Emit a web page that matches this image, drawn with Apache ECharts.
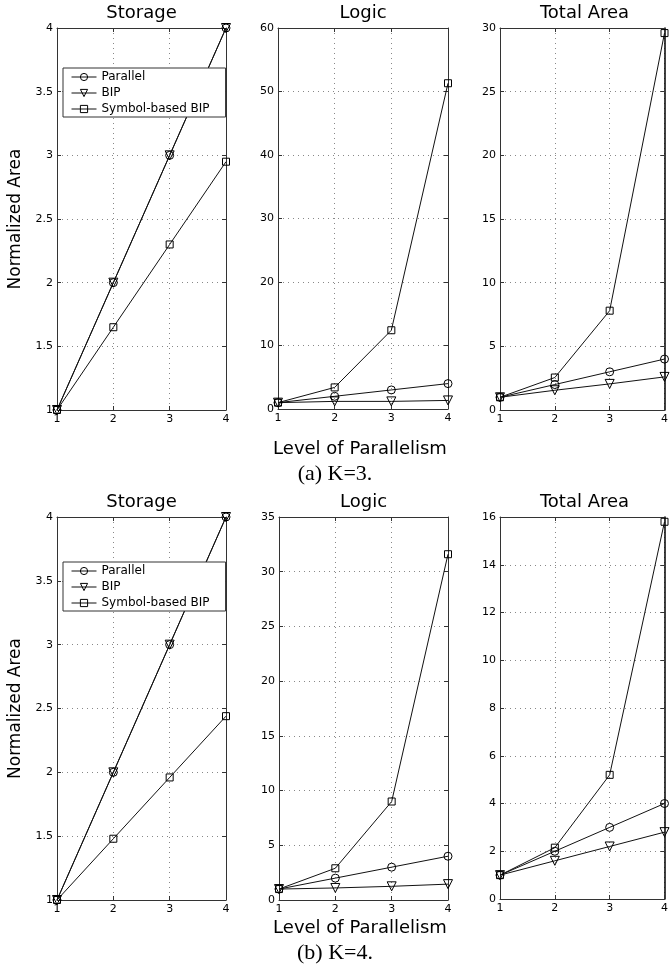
<!DOCTYPE html>
<html>
<head>
<meta charset="utf-8">
<script src="https://cdn.jsdelivr.net/npm/echarts@6/dist/echarts.min.js"></script>
<style>
html,body{margin:0;padding:0;background:#fff;}
#chart{width:671px;height:973px;}
</style>
</head>
<body>
<div id="chart"></div>
<script>
// ---- data ----
const levels = [1, 2, 3, 4];
const seriesNames = ['Parallel', 'BIP', 'Symbol-based BIP'];
const panelTitles = ['Storage', 'Logic', 'Total Area'];

// (a) K=3
const k3StorageParallel = [1, 2, 3, 4];
const k3StorageBIP = [1, 2, 3, 4];
const k3StorageSymbol = [1, 1.65, 2.3, 2.95];
const k3LogicParallel = [1, 2, 3, 4];
const k3LogicBIP = [1, 1.2, 1.2, 1.35];
const k3LogicSymbol = [1, 3.4, 12.4, 51.3];
const k3TotalParallel = [1, 2, 3, 4];
const k3TotalBIP = [1, 1.55, 2.05, 2.6];
const k3TotalSymbol = [1, 2.55, 7.8, 29.6];

// (b) K=4
const k4StorageParallel = [1, 2, 3, 4];
const k4StorageBIP = [1, 2, 3, 4];
const k4StorageSymbol = [1, 1.48, 1.96, 2.44];
const k4LogicParallel = [1, 2, 3, 4];
const k4LogicBIP = [1, 1.1, 1.25, 1.45];
const k4LogicSymbol = [1, 2.9, 9, 31.6];
const k4TotalParallel = [1, 2, 3, 4];
const k4TotalBIP = [1, 1.6, 2.2, 2.8];
const k4TotalSymbol = [1, 2.15, 5.2, 15.8];

// y-axis ranges per panel [min, max, interval]
const yRanges = [
  [1, 4, 0.5], [0, 60, 10], [0, 30, 5],
  [1, 4, 0.5], [0, 35, 5], [0, 16, 2]
];

const panelData = [
  [k3StorageParallel, k3StorageBIP, k3StorageSymbol],
  [k3LogicParallel, k3LogicBIP, k3LogicSymbol],
  [k3TotalParallel, k3TotalBIP, k3TotalSymbol],
  [k4StorageParallel, k4StorageBIP, k4StorageSymbol],
  [k4LogicParallel, k4LogicBIP, k4LogicSymbol],
  [k4TotalParallel, k4TotalBIP, k4TotalSymbol]
];

// ---- layout ----
const FONT = 'DejaVu Sans';
const grids = [
  {left: 57, top: 28, width: 169, height: 382},
  {left: 278, top: 28, width: 170, height: 381},
  {left: 500, top: 28, width: 169, height: 382},
  {left: 57, top: 517, width: 169, height: 383},
  {left: 279, top: 517, width: 169, height: 383},
  {left: 500, top: 517, width: 169, height: 382}
];

const axisColor = '#333';
const xAxes = [], yAxes = [], series = [];
grids.forEach((g, i) => {
  xAxes.push({
    type: 'value', gridIndex: i, min: 1, max: 4, interval: 1,
    axisLine: {show: true, onZero: false, lineStyle: {color: axisColor, width: 1}},
    axisTick: {show: true, inside: true, length: 4, lineStyle: {color: axisColor}},
    axisLabel: {color: '#000', fontSize: 11, fontFamily: FONT, margin: 4},
    splitLine: {show: true, lineStyle: {color: '#888', type: [1, 4], width: 1}}
  });
  const r = yRanges[i];
  yAxes.push({
    type: 'value', gridIndex: i, min: r[0], max: r[1], interval: r[2],
    name: (i % 3 === 0) ? 'Normalized Area' : '',
    nameLocation: 'middle', nameGap: 33, nameRotate: 90,
    nameTextStyle: {color: '#000', fontSize: 17, fontFamily: FONT},
    axisLine: {show: true, onZero: false, lineStyle: {color: axisColor, width: 1}},
    axisTick: {show: true, inside: true, length: 4, lineStyle: {color: axisColor}},
    axisLabel: {color: '#000', fontSize: 11, fontFamily: FONT, margin: 4},
    splitLine: {show: true, lineStyle: {color: '#888', type: [1, 4], width: 1}}
  });
});
// top / right frame axes with inner ticks
grids.forEach((g, i) => {
  xAxes.push({
    type: 'value', gridIndex: i, position: 'top', min: 1, max: 4, interval: 1,
    axisLine: {show: true, onZero: false, lineStyle: {color: axisColor}},
    axisTick: {show: true, inside: true, length: 4, lineStyle: {color: axisColor}},
    axisLabel: {show: false}, splitLine: {show: false}
  });
  const r = yRanges[i];
  yAxes.push({
    type: 'value', gridIndex: i, position: 'right', min: r[0], max: r[1], interval: r[2],
    axisLine: {show: true, onZero: false, lineStyle: {color: i % 3 === 2 ? '#000' : axisColor, width: i % 3 === 2 ? 1.5 : 1}},
    axisTick: {show: true, inside: true, length: 4, lineStyle: {color: axisColor}},
    axisLabel: {show: false}, splitLine: {show: false}
  });
});

const symbols = [
  {symbol: 'circle', rotate: 0, size: 8},
  {symbol: 'triangle', rotate: 180, size: 9},
  {symbol: 'rect', rotate: 0, size: 7}
];

panelData.forEach((arrs, i) => {
  arrs.forEach((vals, s) => {
    series.push({
      name: seriesNames[s],
      type: 'line',
      xAxisIndex: i, yAxisIndex: i,
      data: levels.map((x, k) => [x, vals[k]]),
      symbol: symbols[s].symbol,
      symbolRotate: symbols[s].rotate,
      symbolSize: symbols[s].size,
      showAllSymbol: true,
      lineStyle: {color: '#111', width: 1},
      itemStyle: {color: 'rgba(255,255,255,0)', borderColor: '#000', borderWidth: 1},
      emphasis: {disabled: true},
      animation: false
    });
  });
});

const titles = [];
[0, 1, 2].forEach(c => {
  [0, 3].forEach(off => {
    const g = grids[c + off];
    titles.push({
      text: panelTitles[c], left: g.left + g.width / 2, top: g.top - 24,
      textAlign: 'center', padding: 0,
      textStyle: {fontFamily: FONT, fontSize: 18, fontWeight: 'normal', color: '#000'}
    });
  });
});
titles.push({text: 'Level of Parallelism', left: 360, top: 440, textAlign: 'center', padding: 0,
  textStyle: {fontFamily: FONT, fontSize: 18, fontWeight: 'normal', color: '#000'}});
titles.push({text: '(a) K=3.', left: 335, top: 463, textAlign: 'center', padding: 0,
  textStyle: {fontFamily: 'Liberation Serif', fontSize: 22, fontWeight: 'normal', color: '#000'}});
titles.push({text: 'Level of Parallelism', left: 360, top: 919, textAlign: 'center', padding: 0,
  textStyle: {fontFamily: FONT, fontSize: 18, fontWeight: 'normal', color: '#000'}});
titles.push({text: '(b) K=4.', left: 335, top: 942, textAlign: 'center', padding: 0,
  textStyle: {fontFamily: 'Liberation Serif', fontSize: 22, fontWeight: 'normal', color: '#000'}});

const legendBase = {
  data: seriesNames, orient: 'vertical', left: 63,
  backgroundColor: '#fff', borderColor: '#333', borderWidth: 1, borderRadius: 0,
  padding: [3, 16, 2, 8], itemWidth: 25, itemHeight: 9, itemGap: 4,
  selectedMode: false,
  itemStyle: {color: 'rgba(255,255,255,0)', borderColor: '#000', borderWidth: 1},
  lineStyle: {color: '#111', width: 1},
  textStyle: {fontFamily: FONT, fontSize: 12, color: '#000'}
};

const chart = echarts.init(document.getElementById('chart'), null, {renderer: 'canvas'});
chart.setOption({
  backgroundColor: '#fff',
  animation: false,
  title: titles,
  legend: [
    Object.assign({}, legendBase, {top: 68}),
    Object.assign({}, legendBase, {top: 562})
  ],
  grid: grids.map(g => Object.assign({containLabel: false}, g)),
  xAxis: xAxes,
  yAxis: yAxes,
  series: series
});
</script>
</body>
</html>
